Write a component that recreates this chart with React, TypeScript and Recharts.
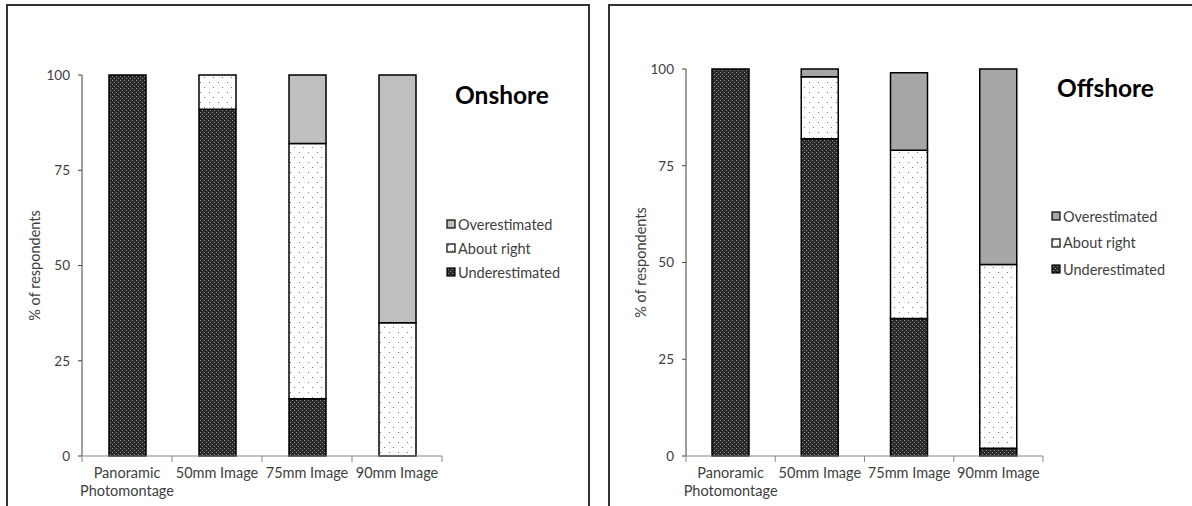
import React from 'react';
import { BarChart, Bar, XAxis, YAxis } from 'recharts';

const categories = ['Panoramic\nPhotomontage', '50mm Image', '75mm Image', '90mm Image'];
const yTicks = [0, 25, 50, 75, 100];

// onshore (% of respondents)
const onUnder = [100, 91, 15, 0];
const onAbout = [0, 9, 67, 35];
const onOver = [0, 0, 18, 65];

// offshore
const offUnder = [100, 82, 35.5, 2];
const offAbout = [0, 16, 43.5, 47.5];
const offOver = [0, 2, 20, 50.5];

const FONT = 'Lato, "Open Sans", sans-serif';
const TEXT = '#404040';

function buildRows(under: number[], about: number[], over: number[]) {
  return categories.map((name, i) => ({ name, under: under[i], about: about[i], over: over[i] }));
}

function Patterns() {
  return (
    <svg width={0} height={0} style={{ position: 'absolute' }}>
      <defs>
        <pattern id="pUnder" width={4} height={4} patternUnits="userSpaceOnUse">
          <rect width={4} height={4} fill="#2a2a2a" />
          <rect x={0} y={0} width={1} height={1} fill="#909090" />
          <rect x={2} y={2} width={1} height={1} fill="#909090" />
        </pattern>
        <pattern id="pAbout" width={9} height={10} patternUnits="userSpaceOnUse">
          <rect width={9} height={10} fill="#fff" />
          <rect x={2} y={2} width={1} height={1} fill="#777" />
          <rect x={6} y={7} width={1} height={1} fill="#777" />
        </pattern>
      </defs>
    </svg>
  );
}

function XTick({ x = 0, y = 0, payload, index = 0, band, count }: any) {
  const lines: string[] = String(payload?.value ?? '').split('\n');
  const left = x - band / 2;
  return (
    <g>
      <line x1={left} y1={y} x2={left} y2={y + 6} stroke="#868686" />
      {index === count - 1 && (
        <line x1={x + band / 2} y1={y} x2={x + band / 2} y2={y + 6} stroke="#868686" />
      )}
      <text x={x} y={y + 22} textAnchor="middle" fill={TEXT} fontSize={14.5} fontFamily={FONT}>
        {lines.map((l, i) => (
          <tspan key={i} x={x} dy={i === 0 ? 0 : 18}>
            {l}
          </tspan>
        ))}
      </text>
    </g>
  );
}

interface LegendProps {
  items: { name: string; fill: string }[];
  left: number;
  top: number;
  rowH: number;
}

function LegendBox({ items, left, top, rowH }: LegendProps) {
  return (
    <div style={{ position: 'absolute', left, top, fontFamily: FONT, fontSize: 14.5, color: TEXT }}>
      {items.map((it) => (
        <div key={it.name} style={{ display: 'flex', alignItems: 'center', height: rowH }}>
          <svg width={10} height={10} style={{ marginRight: 2 }}>
            <rect x={1} y={1} width={8} height={8} fill={it.fill} stroke="#000" strokeWidth={1.2} />
          </svg>
          <span>{it.name}</span>
        </div>
      ))}
    </div>
  );
}

interface PanelProps {
  rows: ReturnType<typeof buildRows>;
  overFill: string;
  top: number;
  yWidth: number;
  right: number;
  width: number;
  labelDx: number;
}

function StackPanel({ rows, overFill, top, yWidth, right, width, labelDx }: PanelProps) {
  const band = (width - yWidth - right) / categories.length;
  return (
    <BarChart
      width={width}
      height={506}
      data={rows}
      margin={{ top, right, bottom: 0, left: 0 }}
      style={{ fontFamily: FONT }}
    >
      <YAxis
        domain={[0, 100]}
        ticks={yTicks}
        width={yWidth}
        tickSize={4}
        tickMargin={8}
        axisLine={{ stroke: '#404040' }}
        tickLine={{ stroke: '#404040' }}
        tick={{ fill: TEXT, fontSize: 13.5, fontFamily: FONT }}
        label={{
          value: '% of respondents',
          angle: -90,
          position: 'center',
          dx: labelDx,
          style: { fill: TEXT, fontSize: 14.5, fontFamily: FONT, textAnchor: 'middle' },
        }}
      />
      <XAxis
        dataKey="name"
        height={50}
        tickSize={0}
        tickMargin={0}
        tickLine={false}
        interval={0}
        axisLine={{ stroke: '#868686' }}
        tick={<XTick band={band} count={categories.length} />}
      />
      <Bar dataKey="under" stackId="s" barSize={37} fill="url(#pUnder)" stroke="#000" strokeWidth={1.5} isAnimationActive={false} />
      <Bar dataKey="about" stackId="s" barSize={37} fill="url(#pAbout)" stroke="#000" strokeWidth={1.5} isAnimationActive={false} />
      <Bar dataKey="over" stackId="s" barSize={37} fill={overFill} stroke="#000" strokeWidth={1.5} isAnimationActive={false} />
    </BarChart>
  );
}

const titleStyle: React.CSSProperties = {
  position: 'absolute',
  fontFamily: FONT,
  fontWeight: 700,
  fontSize: 24.5,
  color: '#000',
  lineHeight: 1,
};

const legendItems = (overFill: string) => [
  { name: 'Overestimated', fill: overFill },
  { name: 'About right', fill: 'url(#pAbout)' },
  { name: 'Underestimated', fill: 'url(#pUnder)' },
];

export default function App() {
  return (
    <div style={{ position: 'absolute', left: 0, top: 0, width: 1192, height: 506, overflow: 'hidden', background: '#fff' }}>
      <Patterns />
      <div style={{ position: 'absolute', left: 6, top: 4, width: 584, height: 520, border: '2px solid #333', boxSizing: 'border-box' }} />
      <div style={{ position: 'absolute', left: 608, top: 4, width: 620, height: 520, border: '2px solid #333', boxSizing: 'border-box' }} />

      <div style={{ position: 'absolute', left: 0, top: 0 }}>
        <StackPanel
          rows={buildRows(onUnder, onAbout, onOver)}
          overFill="#bfbfbf"
          top={75}
          yWidth={82}
          right={148}
          width={590}
          labelDx={-6}
        />
      </div>
      <div style={{ position: 'absolute', left: 600, top: 0 }}>
        <StackPanel
          rows={buildRows(offUnder, offAbout, offOver)}
          overFill="#a6a6a6"
          top={69}
          yWidth={86}
          right={149}
          width={592}
          labelDx={-2}
        />
      </div>

      <LegendBox items={legendItems('#bfbfbf')} left={446} top={212} rowH={24} />
      <LegendBox items={legendItems('#a6a6a6')} left={1051} top={203} rowH={26.5} />

      <div style={{ ...titleStyle, left: 455, top: 83 }}>Onshore</div>
      <div style={{ ...titleStyle, left: 1057, top: 76 }}>Offshore</div>
    </div>
  );
}
